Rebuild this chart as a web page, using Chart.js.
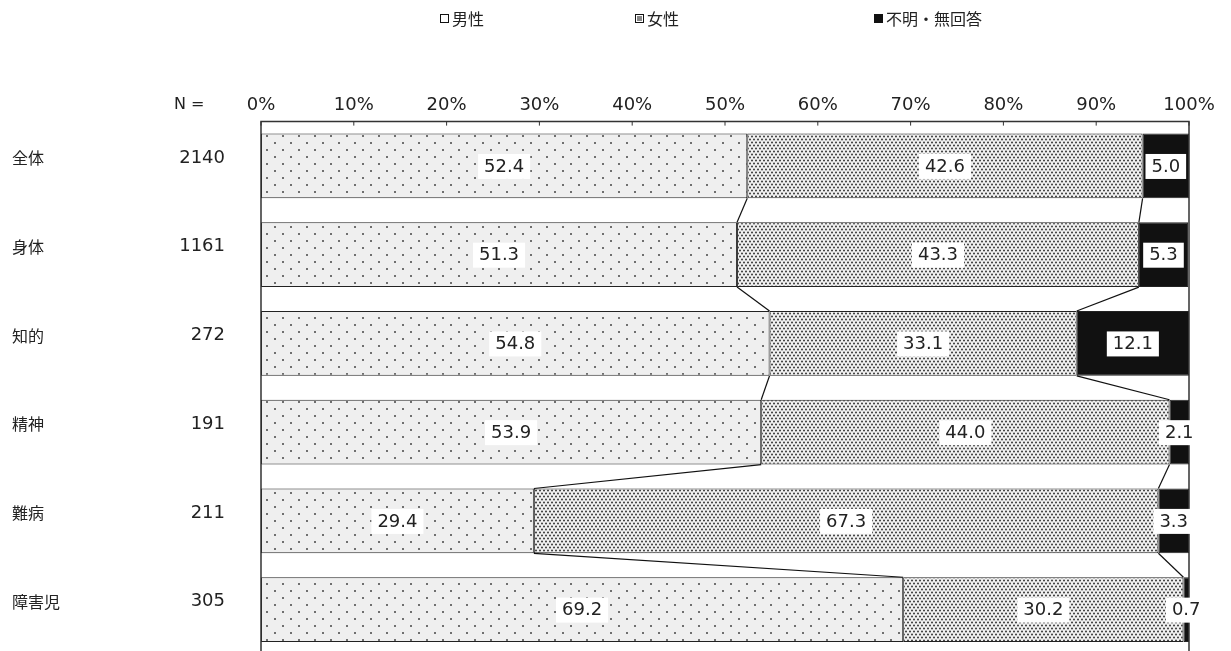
<!DOCTYPE html>
<html>
<head>
<meta charset="utf-8">
<script src="https://cdn.jsdelivr.net/npm/chart.js@4"></script>
<style>
  html, body { margin: 0; padding: 0; background: #fff; overflow: hidden; }
  #wrap { width: 1231px; height: 654px; }
</style>
</head>
<body>
<div id="wrap"><canvas id="chart"></canvas></div>
<script>
const categories = ["全体", "身体", "知的", "精神", "難病", "障害児"];
const nCounts = ["2140", "1161", "272", "191", "211", "305"];
const seriesNames = ["男性", "女性", "不明・無回答"];
const male = [52.4, 51.3, 54.8, 53.9, 29.4, 69.2];
const female = [42.6, 43.3, 33.1, 44.0, 67.3, 30.2];
const unknown = [5.0, 5.3, 12.1, 2.1, 3.3, 0.7];
const tickValues = [0, 10, 20, 30, 40, 50, 60, 70, 80, 90, 100];

const NUM_FONT = '"DejaVu Sans", sans-serif';
const JP_FONT = '"Noto Sans CJK JP", sans-serif';
const TEXT = "#222";

function makePattern(w, h, bg, dots, color, r) {
  const c = document.createElement("canvas");
  c.width = w;
  c.height = h;
  const g = c.getContext("2d");
  g.fillStyle = bg;
  g.fillRect(0, 0, w, h);
  g.fillStyle = color;
  dots.forEach(([x, y]) => {
    g.beginPath();
    g.arc(x, y, r, 0, Math.PI * 2);
    g.fill();
  });
  return g.createPattern(c, "repeat");
}

const ctx = document.getElementById("chart").getContext("2d");
const malePattern = makePattern(16, 14, "#efefef", [[3, 3], [11, 10]], "#444", 1);
const femalePattern = makePattern(8, 6, "#f2f2f2", [[2, 1.5], [6, 1.5], [0, 4.5], [4, 4.5], [8, 4.5]], "#404040", 1.05);
const fills = [malePattern, femalePattern, "#111"];

// category names, N column, legend, frame, connectors and value boxes
const decorPlugin = {
  id: "decor",
  afterDatasetsDraw(chart) {
    const c = chart.ctx;
    const area = chart.chartArea;
    const xs = chart.scales.x;
    const m0 = chart.getDatasetMeta(0).data;
    const m1 = chart.getDatasetMeta(1).data;

    c.save();
    c.strokeStyle = "#111";
    c.lineWidth = 1.2;
    // connector lines between bars
    for (let i = 0; i < m0.length - 1; i++) {
      [m0, m1].forEach((m) => {
        const a = m[i], b = m[i + 1];
        c.beginPath();
        c.moveTo(a.x, a.y + a.height / 2);
        c.lineTo(b.x, b.y - b.height / 2);
        c.stroke();
      });
    }

    // frame
    c.strokeStyle = "#333";
    c.lineWidth = 1.5;
    c.beginPath();
    c.moveTo(area.left, area.bottom);
    c.lineTo(area.left, area.top);
    c.lineTo(area.right, area.top);
    c.lineTo(area.right, area.bottom);
    c.stroke();
    c.lineWidth = 1;
    tickValues.forEach((v) => {
      const x = xs.getPixelForValue(v);
      c.beginPath();
      c.moveTo(x, area.top);
      c.lineTo(x, area.top + 4);
      c.stroke();
    });

    // value boxes
    c.font = "18px " + NUM_FONT;
    c.textAlign = "center";
    c.textBaseline = "middle";
    chart.data.datasets.forEach((ds, di) => {
      chart.getDatasetMeta(di).data.forEach((el, i) => {
        const right = Math.min(el.x, area.right);
        const cx = (right + el.base) / 2;
        const txt = ds.data[i].toFixed(1);
        const w = c.measureText(txt).width + 12;
        c.fillStyle = "#fff";
        c.fillRect(cx - w / 2, el.y - 12, w, 25);
        c.fillStyle = TEXT;
        c.fillText(txt, cx, el.y + 1);
      });
    });

    // row labels and N values
    const ys = chart.scales.y;
    categories.forEach((cat, i) => {
      const y = ys.getPixelForValue(i) - 8;
      c.font = "16px " + JP_FONT;
      c.textAlign = "left";
      c.fillStyle = TEXT;
      c.fillText(cat, 12, y);
      c.font = "18px " + NUM_FONT;
      c.textAlign = "right";
      c.fillText(nCounts[i], 225, y);
    });
    c.font = "16px " + NUM_FONT;
    c.textAlign = "left";
    c.fillText("N =", 174, 105);

    // legend
    const legendX = [440, 635, 874];
    c.font = "16px " + JP_FONT;
    seriesNames.forEach((name, i) => {
      const x = legendX[i];
      c.fillStyle = i === 2 ? "#111" : "#fff";
      c.fillRect(x, 14, 9, 9);
      if (i === 1) {
        c.fillStyle = "#888";
        c.fillRect(x + 2, 16, 5, 5);
      }
      c.strokeStyle = "#111";
      c.lineWidth = 1;
      c.strokeRect(x + 0.5, 14.5, 8, 8);
      c.fillStyle = TEXT;
      c.fillText(name, x + 12, 19);
    });
    c.restore();
  },
};

new Chart(ctx, {
  type: "bar",
  data: {
    labels: categories,
    datasets: [male, female, unknown].map((d, i) => ({
      label: seriesNames[i],
      data: d,
      backgroundColor: fills[i],
      borderColor: "#222",
      borderWidth: 1,
      borderSkipped: false,
      barPercentage: 0.73,
      categoryPercentage: 1,
    })),
  },
  options: {
    indexAxis: "y",
    responsive: true,
    maintainAspectRatio: false,
    animation: false,
    layout: { padding: { left: 261, right: 42, top: 90, bottom: 0 } },
    plugins: { legend: { display: false }, tooltip: { enabled: false } },
    scales: {
      x: {
        position: "top",
        stacked: true,
        min: 0,
        max: 100,
        afterBuildTicks: (s) => { s.ticks = tickValues.map((v) => ({ value: v })); },
        grid: { display: false, drawTicks: false },
        border: { display: false },
        ticks: {
          callback: (v) => v + "%",
          color: TEXT,
          font: { family: NUM_FONT, size: 18 },
          padding: 5,
          maxRotation: 0,
          autoSkip: false,
        },
      },
      y: {
        stacked: true,
        display: false,
      },
    },
  },
  plugins: [decorPlugin],
});
</script>
</body>
</html>
